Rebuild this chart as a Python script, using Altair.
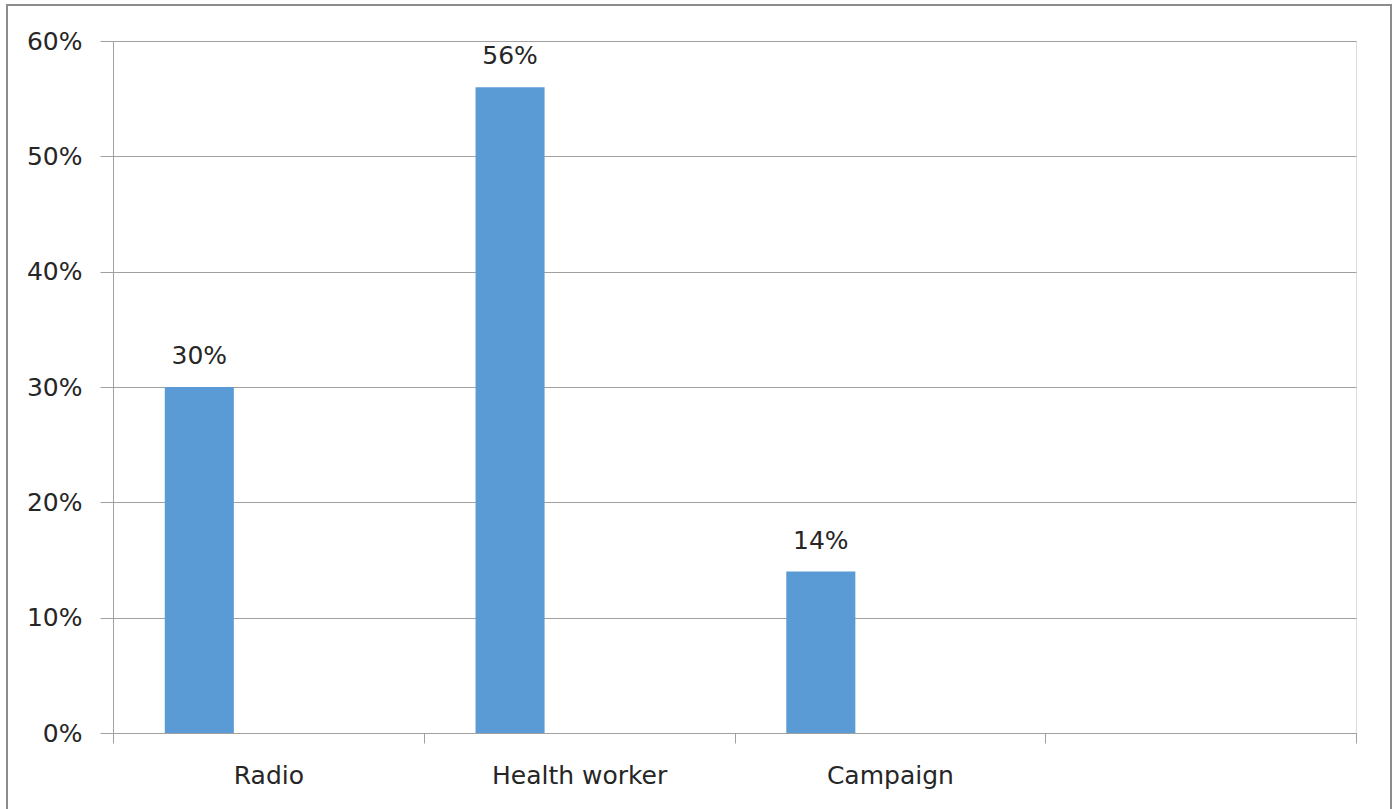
import altair as alt
import pandas as pd

categories = ["Radio", "Health worker", "Campaign", " "]
values = [0.30, 0.56, 0.14, None]
series = ["Series1", "Series1", "Series1", "Series1"]
series_domain = ["Series1", "Series2", "Series3"]
labels = ["30%", "56%", "14%", ""]

df = pd.DataFrame({"category": categories, "value": values, "series": series, "label": labels})

W, H = 1243, 692
FONT = "DejaVu Sans"
FS = 25
TXT = "#262626"
GRID = "#a0a0a0"

x = alt.X("category:N", sort=categories,
          scale=alt.Scale(domain=categories, paddingInner=0, paddingOuter=0),
          axis=alt.Axis(title=None, labelAngle=0, tickBand="extent", tickSize=10,
                        tickColor=GRID, domainColor=GRID, labelPadding=20,
                        labelFontSize=FS, labelFont=FONT, labelColor=TXT, grid=False))
xo = alt.XOffset("series:N", scale=alt.Scale(domain=series_domain, paddingOuter=0.75, paddingInner=0))
y = alt.Y("value:Q", scale=alt.Scale(domain=[0, 0.6]),
          axis=alt.Axis(title=None, format=".0%", values=[0, 0.1, 0.2, 0.3, 0.4, 0.5, 0.6],
                        tickSize=13, tickColor=GRID, domainColor=GRID, gridColor=GRID,
                        labelPadding=18, labelFontSize=FS, labelFont=FONT, labelColor=TXT))

bars = alt.Chart(df).mark_bar(color="#5b9bd5").encode(x=x, xOffset=xo, y=y)
text = alt.Chart(df).mark_text(dy=-31, baseline="middle", fontSize=FS, font=FONT, color=TXT).encode(
    x=x, xOffset=xo, y=y, text="label:N")

border = alt.Chart(pd.DataFrame({"a": [0]})).mark_rect(
    fill=None, stroke="#8c8c8c", strokeWidth=2, clip=False).encode(
    x=alt.value(-106), x2=alt.value(1278), y=alt.value(-36), y2=alt.value(800))

chart = alt.layer(bars, text, border).properties(
    width=W, height=H,
    autosize=alt.AutoSizeParams(type="none"),
    padding={"left": 113, "top": 41, "right": 40, "bottom": 76},
).configure_view(stroke=None).configure(background="white")

chart.save("out.html", embed_options={"renderer": "svg", "actions": False})
